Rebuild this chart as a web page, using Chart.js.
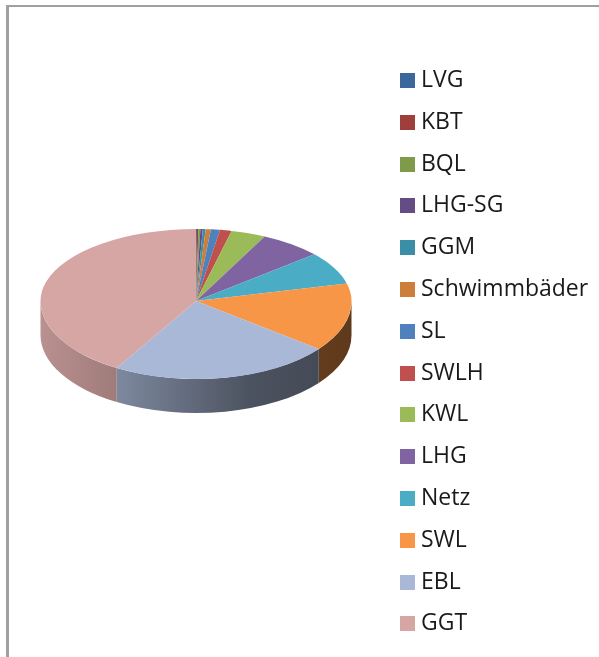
<!DOCTYPE html>
<html>
<head>
<meta charset="utf-8">
<style>
  html, body { margin: 0; background: #fff; overflow: hidden; }
  #wrap { position: relative; width: 599px; height: 657px; }
  #frame { position: absolute; left: 6px; top: 5px; right: 0; bottom: 0; border-left: 3px solid #a0a0a0; border-top: 2px solid #a0a0a0; }
  #legend { position: absolute; left: 400px; top: 58px; font: 23px "Open Sans", sans-serif; color: #1a1a1a; }
  #legend div { height: 41.8px; line-height: 41.8px; white-space: nowrap; }
  #legend i { display: inline-block; width: 15px; height: 15px; margin-right: 6px; vertical-align: -1px; }
</style>
<script src="https://cdn.jsdelivr.net/npm/chart.js@4"></script>
</head>
<body>
<div id="wrap">
  <div id="frame"></div>
  <canvas id="chart" width="599" height="657" style="position:absolute;left:0;top:0"></canvas>
  <div id="legend"></div>
</div>
<script>
const categories = ["LVG", "KBT", "BQL", "LHG-SG", "GGM", "Schwimmbäder", "SL", "SWLH", "KWL", "LHG", "Netz", "SWL", "EBL", "GGT"];
const shares = [0.1, 0.15, 0.2, 0.25, 0.3, 0.53, 0.95, 1.2, 3.6, 6.5, 7.3, 14.45, 23.0, 41.5];
const colors = ["#3c679a", "#9e3f3c", "#7f9a48", "#664c85", "#3a8fa6", "#cc7e3a", "#4f81bd", "#c0504d", "#9bbb59", "#8064a2", "#4bacc6", "#f79646", "#a9b8d6", "#d6a6a5"];

// fake 3D tilt of the pie, front half a bit taller than the back (perspective)
const pieY = 301;
const backHeight = 72;
const frontHeight = 78;
const depth = 34;

// how dark the wall gets going left to right
const shade = [[0, 0.87], [0.25, 0.74], [0.67, 0.45], [1, 0.38]];

function shaded(hex, k) {
  const n = parseInt(hex.slice(1), 16);
  const r = Math.round((n >> 16) * k);
  const g = Math.round(((n >> 8) & 255) * k);
  const b = Math.round((n & 255) * k);
  return `rgb(${r},${g},${b})`;
}

// clip to one half of the pie and squash it
function squash(ctx, arc, clipY, clipH, height) {
  ctx.save();
  ctx.beginPath();
  ctx.rect(0, clipY, 599, clipH);
  ctx.clip();
  ctx.translate(arc.x, pieY);
  ctx.scale(1, height / arc.outerRadius);
  ctx.translate(-arc.x, -arc.y);
}

const tiltPlugin = {
  id: "tilt",
  beforeDatasetsDraw(chart) {
    const ctx = chart.ctx;
    const arcs = chart.getDatasetMeta(0).data;
    const cx = arcs[0].x;
    const rx = arcs[0].outerRadius;

    // side wall, only the front half of the rim shows
    arcs.forEach((arc, i) => {
      const from = Math.max(arc.startAngle, 0);
      const to = Math.min(arc.endAngle, Math.PI);
      if (to <= from) return;
      const grad = ctx.createLinearGradient(cx - rx, 0, cx + rx, 0);
      shade.forEach(([pos, k]) => grad.addColorStop(pos, shaded(colors[i], k)));
      ctx.beginPath();
      ctx.ellipse(cx, pieY, rx, frontHeight, 0, from, to);
      ctx.ellipse(cx, pieY + depth, rx, frontHeight, 0, to, from, true);
      ctx.closePath();
      ctx.fillStyle = grad;
      ctx.fill();
    });

    // chart draws the front half itself
    squash(ctx, arcs[0], pieY, 657 - pieY, frontHeight);
  },
  afterDatasetsDraw(chart) {
    const ctx = chart.ctx;
    const arcs = chart.getDatasetMeta(0).data;
    ctx.restore();

    // back half
    squash(ctx, arcs[0], 0, pieY, backHeight);
    arcs.forEach(arc => arc.draw(ctx));
    ctx.restore();
  }
};

const chart = new Chart(document.getElementById("chart"), {
  type: "pie",
  data: {
    labels: categories,
    datasets: [{
      data: shares,
      backgroundColor: colors,
      borderWidth: 0,
      radius: 155.5,
      clip: false
    }]
  },
  options: {
    responsive: false,
    animation: false,
    layout: { padding: { right: 207 } },
    plugins: {
      tooltip: { enabled: false },
      legend: { display: false }
    }
  },
  plugins: [tiltPlugin]
});

// legend is plain html so the rows sit where they should
const legendBox = document.getElementById("legend");
chart.legend.legendItems.forEach(item => {
  const row = document.createElement("div");
  row.innerHTML = `<i style="background:${item.fillStyle}"></i>${item.text}`;
  legendBox.appendChild(row);
});
</script>
</body>
</html>
